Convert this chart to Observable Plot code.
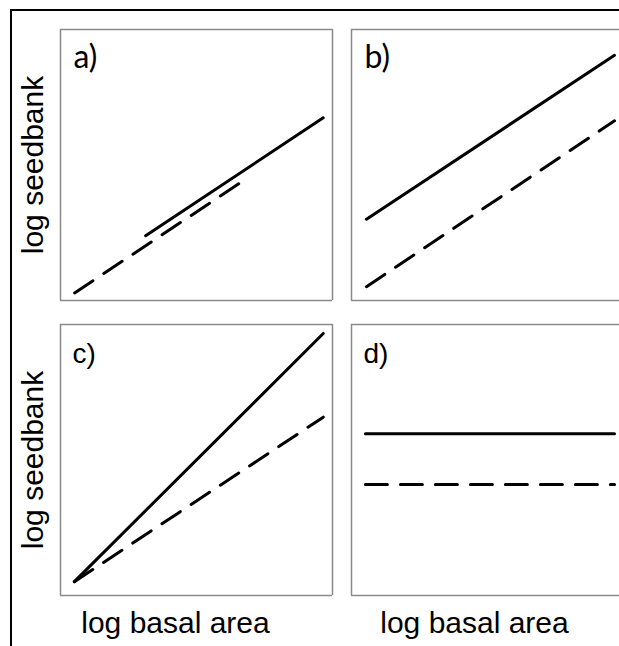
<!DOCTYPE html>
<html>
<head>
<meta charset="utf-8">
<script src="https://cdn.jsdelivr.net/npm/d3@7"></script>
<script src="https://cdn.jsdelivr.net/npm/@observablehq/plot@0.6"></script>
<style>
  html, body { margin: 0; padding: 0; background: #fff; overflow: hidden; width: 619px; height: 646px; }
  #outer { position: absolute; left: 10px; top: 9px; width: 700px; height: 700px;
           border-left: 2px solid #000; border-top: 2px solid #000; }
  #chart { position: absolute; left: 0; top: 0; }
</style>
</head>
<body>
<div id="outer"></div>
<div id="chart"></div>
<script>
// Panel layout and labels
const panelLabels = ["a)", "b)", "c)", "d)"];
const panelRow = [0, 0, 1, 1];
const panelCol = [0, 1, 0, 1];
const yLabel = "log seedbank";
const xLabel = "log basal area";

// Normalised (0–1) line endpoints: [x, y]
const solidStart  = [[0.313, 0.239], [0.055, 0.300], [0.051, 0.051], [0.051, 0.597]];
const solidEnd    = [[0.966, 0.674], [0.967, 0.905], [0.966, 0.967], [0.967, 0.597]];
const dashedStart = [[0.052, 0.028], [0.055, 0.051], [0.051, 0.051], [0.051, 0.410]];
const dashedEnd   = [[0.668, 0.439], [0.967, 0.663], [0.966, 0.658], [0.967, 0.410]];

const lines = [];
panelLabels.forEach((p, i) => {
  for (const [series, s, e] of [["solid", solidStart[i], solidEnd[i]], ["dashed", dashedStart[i], dashedEnd[i]]]) {
    lines.push({panel: p, row: panelRow[i], col: panelCol[i], series, x: s[0], y: s[1]});
    lines.push({panel: p, row: panelRow[i], col: panelCol[i], series, x: e[0], y: e[1]});
  }
});
const panels = panelLabels.map((p, i) => ({panel: p, row: panelRow[i], col: panelCol[i]}));
const frameStyle = {stroke: "#8a8a8a", strokeWidth: 1.5};

const chart = Plot.plot({
  width: 640,
  height: 646,
  marginLeft: 60,
  marginRight: 17,
  marginTop: 28,
  marginBottom: 50,
  x: {domain: [0, 1], axis: null},
  y: {domain: [0, 1], axis: null},
  fx: {paddingInner: 0.0653, paddingOuter: 0, axis: null},
  fy: {paddingInner: 0.081, paddingOuter: 0, axis: null},
  marks: [
    // panel boxes (right edge of the right-hand column is cropped off the figure)
    Plot.ruleY(panels, {fx: "col", fy: "row", y: () => 0, ...frameStyle}),
    Plot.ruleY(panels, {fx: "col", fy: "row", y: () => 1, ...frameStyle}),
    Plot.ruleX(panels, {fx: "col", fy: "row", x: () => 0, ...frameStyle}),
    Plot.ruleX(panels.filter(d => d.col === 0), {fx: "col", fy: "row", x: () => 1, ...frameStyle}),
    Plot.line(lines.filter(d => d.series === "solid"), {
      x: "x", y: "y", z: "panel", fx: "col", fy: "row",
      stroke: "#000", strokeWidth: 3, strokeLinecap: "round"
    }),
    Plot.line(lines.filter(d => d.series === "dashed"), {
      x: "x", y: "y", z: "panel", fx: "col", fy: "row",
      stroke: "#000", strokeWidth: 3, strokeLinecap: "round", strokeDasharray: "22,13"
    }),
    Plot.text(panels.filter(d => d.row === 0), {
      fx: "col", fy: "row", text: "panel", frameAnchor: "top-left",
      textAnchor: "start", lineAnchor: "bottom", dx: 13, dy: 38,
      fontSize: 32, fontFamily: "Lato, sans-serif", fill: "#000"
    }),
    Plot.text(panels.filter(d => d.row === 1), {
      fx: "col", fy: "row", text: "panel", frameAnchor: "top-left",
      textAnchor: "start", lineAnchor: "bottom", dx: 12, dy: 38,
      fontSize: 28, fontFamily: "Liberation Sans, Arial, sans-serif", fill: "#000"
    }),
    Plot.text(panels.filter(d => d.col === 0), {
      fx: "col", fy: "row", text: () => yLabel, frameAnchor: "left",
      rotate: -90, textAnchor: "middle", lineAnchor: "bottom", dx: -18,
      fontSize: 30, fontFamily: "Liberation Sans, Arial, sans-serif", fill: "#000"
    }),
    Plot.text(panels.filter(d => d.row === 1 && d.col === 0), {
      fx: "col", fy: "row", text: () => xLabel, frameAnchor: "bottom",
      textAnchor: "middle", lineAnchor: "bottom", dy: 37, dx: -21,
      fontSize: 30, fontFamily: "Liberation Sans, Arial, sans-serif", fill: "#000"
    }),
    Plot.text(panels.filter(d => d.row === 1 && d.col === 1), {
      fx: "col", fy: "row", text: () => xLabel, frameAnchor: "bottom",
      textAnchor: "middle", lineAnchor: "bottom", dy: 37, dx: -13,
      fontSize: 30, fontFamily: "Liberation Sans, Arial, sans-serif", fill: "#000"
    })
  ]
});
chart.style.background = "transparent";
chart.style.maxWidth = "none";
document.getElementById("chart").appendChild(chart);
</script>
</body>
</html>
